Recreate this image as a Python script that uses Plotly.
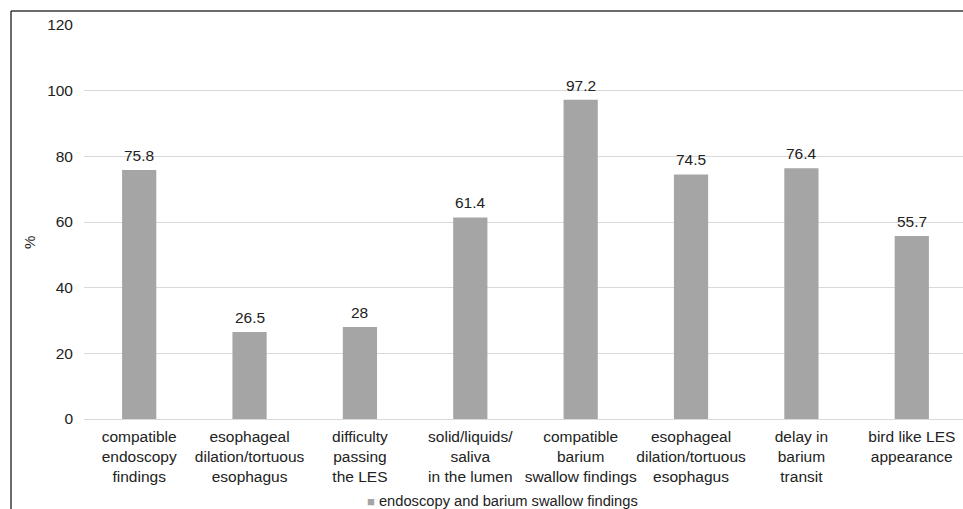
import plotly.graph_objects as go

# Categories (multi-line tick labels) and percentages
categories = [
    "compatible<br>endoscopy<br>findings",
    "esophageal<br>dilation/tortuous<br>esophagus",
    "difficulty<br>passing<br>the LES",
    "solid/liquids/<br>saliva<br>in the lumen",
    "compatible<br>barium<br>swallow findings",
    "esophageal<br>dilation/tortuous<br>esophagus",
    "delay in<br>barium<br>transit",
    "bird like LES<br>appearance",
]
values = [75.8, 26.5, 28, 61.4, 97.2, 74.5, 76.4, 55.7]
value_labels = ["75.8", "26.5", "28", "61.4", "97.2", "74.5", "76.4", "55.7"]
series_name = "endoscopy and barium swallow findings"
y_ticks = [0, 20, 40, 60, 80, 100, 120]

FONT = "Liberation Sans, Arial, sans-serif"
TEXT = "#222222"
BAR = "#A5A5A5"
GRID = "#D9D9D9"

W, H = 963, 509
ML, MR, MT, MB = 84, 0, 25, 90
PW, PH = W - ML - MR, H - MT - MB

def px_x(px):
    return (px - ML) / PW

def px_y(py):
    return (H - MB - py) / PH

fig = go.Figure()
fig.add_trace(go.Bar(
    x=list(range(len(categories))),
    y=values,
    name=series_name,
    width=0.31,
    marker=dict(color=BAR, line=dict(width=0)),
    showlegend=False,
))

# Value labels above each bar
for i, (v, lab) in enumerate(zip(values, value_labels)):
    fig.add_annotation(
        x=i, y=v, text=lab, xref="x", yref="y",
        showarrow=False, xanchor="center", yanchor="bottom",
        yshift=4,
        font=dict(family=FONT, size=15.5, color=TEXT),
    )

fig.update_layout(
    width=W, height=H,
    margin=dict(l=ML, r=MR, t=MT, b=MB),
    paper_bgcolor="white",
    plot_bgcolor="white",
    font=dict(family=FONT, size=15.5, color=TEXT),
    xaxis=dict(
        range=[-0.5, 7.464],
        tickmode="array",
        tickvals=list(range(len(categories))),
        ticktext=categories,
        showgrid=False,
        showline=False,
        zeroline=False,
        ticks="",
        tickangle=0,
        ticklabelstandoff=6,
        tickfont=dict(family=FONT, size=15.5, color=TEXT),
    ),
    yaxis=dict(
        range=[0, 120],
        tickvals=y_ticks,
        showgrid=True,
        gridcolor=GRID,
        gridwidth=1,
        zeroline=True,
        zerolinecolor=GRID,
        zerolinewidth=1,
        showline=False,
        ticks="",
        ticklabelstandoff=10,
        tickfont=dict(family=FONT, size=15.5, color=TEXT),
    ),
    bargap=0.69,
)

# Axis title
fig.add_annotation(
    text="%", xref="paper", yref="paper",
    x=px_x(29), y=px_y(243), textangle=-90,
    showarrow=False, xanchor="center", yanchor="middle",
    font=dict(family=FONT, size=15, color=TEXT),
)

# Legend entry below the categories
fig.add_annotation(
    text=f"<span style='color:{BAR};font-size:13px'>■</span> {series_name}",
    xref="paper", yref="paper",
    x=px_x(365), y=px_y(501),
    showarrow=False, xanchor="left", yanchor="middle",
    font=dict(family=FONT, size=14.7, color=TEXT),
)

# Chart frame (left and top edges)
fig.add_shape(type="line", xref="paper", yref="paper",
              x0=px_x(11), x1=px_x(11), y0=px_y(11), y1=px_y(509),
              line=dict(color="#3a3a3a", width=1.5))
fig.add_shape(type="line", xref="paper", yref="paper",
              x0=px_x(11), x1=px_x(963), y0=px_y(11), y1=px_y(11),
              line=dict(color="#3a3a3a", width=1.5))

fig.write_html("out.html")
